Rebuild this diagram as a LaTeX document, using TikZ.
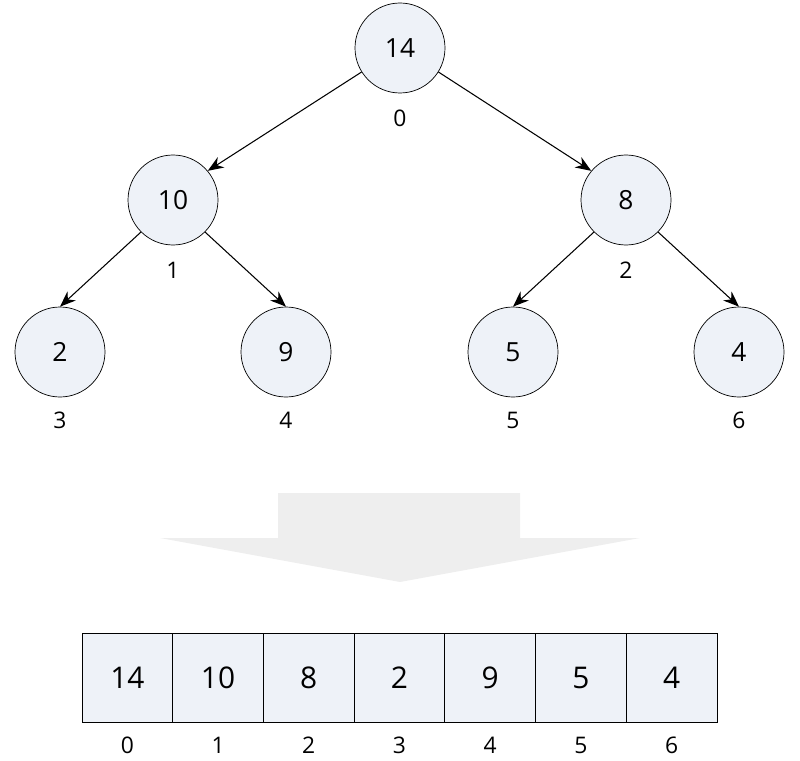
\documentclass[tikz,border=0pt]{standalone}
\usepackage{fontspec}
\setmainfont{Open Sans}
\usetikzlibrary{arrows.meta}
\definecolor{cellfill}{HTML}{EEF2F8}
\definecolor{bigarrow}{HTML}{EEEEEE}
\tikzset{
  heapnode/.style={circle,draw,fill=cellfill,minimum size=90*0.02cm,inner sep=0pt,font=\fontsize{15}{15}\selectfont},
  idx/.style={font=\fontsize{13}{13}\selectfont},
  cell/.style={draw,fill=cellfill,minimum width=90.7*0.02cm,minimum height=89*0.02cm,inner sep=0pt,font=\fontsize{17}{17}\selectfont},
  edge/.style={semithick,-{Stealth[length=9pt,width=7pt]}}
}
\begin{document}
\begin{tikzpicture}[x=0.02cm,y=-0.02cm]
        \useasboundingbox (0,0) rectangle (800,760);
        % Tree
        \node [heapnode] (n0) at (400,48)  {14};
        \node [heapnode] (n1) at (173,200) {10};
        \node [heapnode] (n2) at (626,200) {8};
        \node [heapnode] (n3) at (60,352)  {2};
        \node [heapnode] (n4) at (286,352) {9};
        \node [heapnode] (n5) at (513,352) {5};
        \node [heapnode] (n6) at (739,352) {4};
        \node [idx] (i0) at (400,118) {0};
        \node [idx] (i1) at (173,270) {1};
        \node [idx] (i2) at (626,270) {2};
        \node [idx] (i3) at (60,420)  {3};
        \node [idx] (i4) at (286,420) {4};
        \node [idx] (i5) at (513,420) {5};
        \node [idx] (i6) at (739,420) {6};
        \draw [edge] (n0.212) -- (n1.40);
        \draw [edge] (n0.328) -- (n2.140);
        \draw [edge] (n1.225) -- (n3.north);
        \draw [edge] (n1.315) -- (n4.north);
        \draw [edge] (n2.225) -- (n5.north);
        \draw [edge] (n2.315) -- (n6.north);

        % Big arrow
        \path [fill=bigarrow] (278,493) -- (520,493) -- (520,538) -- (640,538)
            -- (400,582) -- (160,538) -- (278,538) -- cycle;

        % Array
        \foreach \v [count=\i from 0] in {14,10,8,2,9,5,4} {
            \node [cell] (c\i) at (82+45.35+90.7*\i,677.5) {\v};
            \node [idx] (a\i) at (82+45.35+90.7*\i,745) {\i};
        }
\end{tikzpicture}
\end{document}
